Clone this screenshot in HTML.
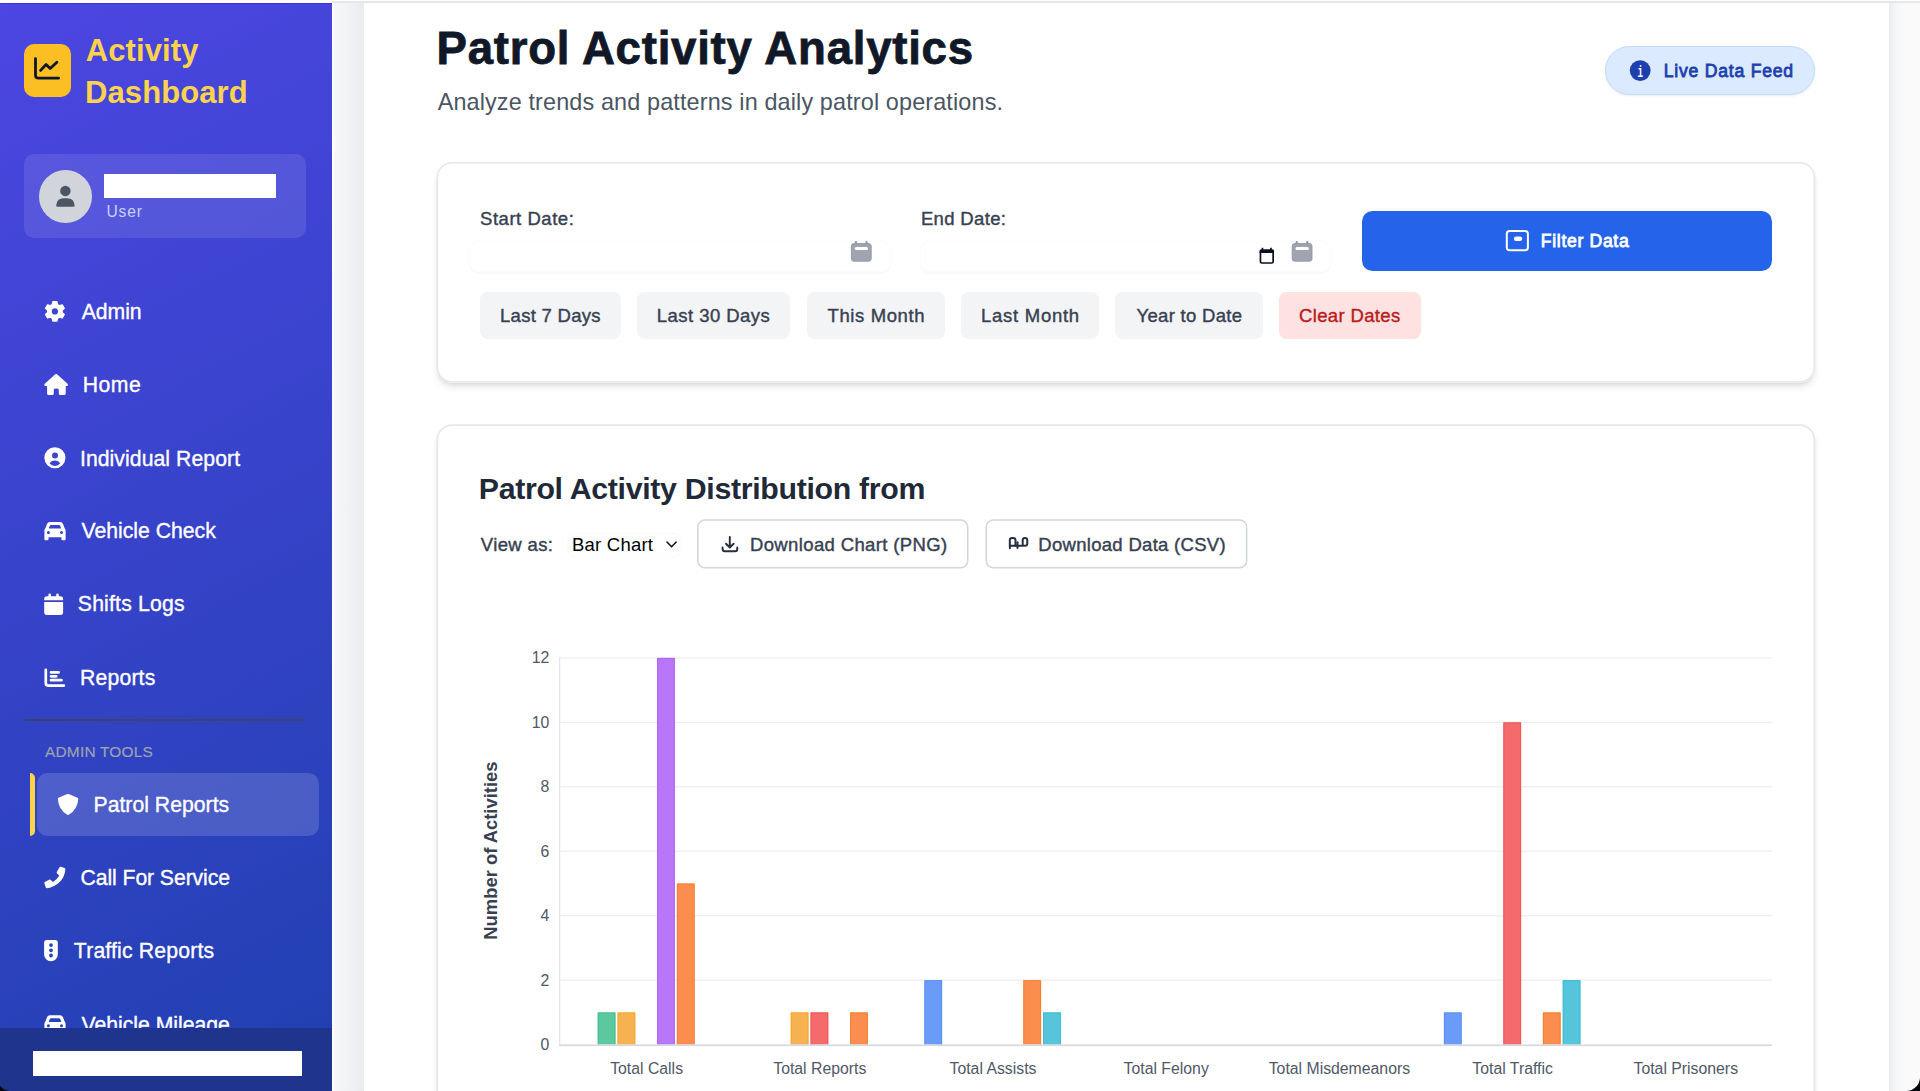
<!DOCTYPE html>
<html lang="en">
<head>
<meta charset="utf-8">
<title>Patrol Activity Analytics</title>
<style>
*{box-sizing:border-box;margin:0;padding:0}
html,body{width:1920px;height:1091px;overflow:hidden;background:#f3f4f6;font-family:"Liberation Sans",Arial,Helvetica,sans-serif}
.abs{position:absolute}
.t{position:absolute;white-space:pre;font-family:"Liberation Sans",Arial,Helvetica,sans-serif}
#topstrip{left:0;top:0;width:1920px;height:3px;background:#e5e7eb}
#topwhite{left:0;top:0;width:1920px;height:1.2px;background:#fff}
#topside{left:0;top:0;width:332px;height:3px;background:#fffdf8}
#sidebar{left:0;top:3px;width:332px;height:1088px;background:linear-gradient(152deg,#4c46e2 0%,#2040b0 100%);overflow:hidden}
#sideline{left:0;top:2.6px;width:332px;height:1.4px;background:#3a35df}
#gutterL{left:332px;top:3px;width:32px;height:1088px;background:linear-gradient(90deg,#ffffff 0,#ffffff 1.5px,#f6f7f8 2.5px,#f1f2f4 18px,#eaebee 31.5px,#eaebee 100%)}
#panel{left:363.75px;top:3px;width:1125.25px;height:1088px;background:#fff}
#panel{width:1525.25px}
#gutterR{left:1888.9px;top:3px;width:31.1px;height:1088px;background:linear-gradient(90deg,#ecedef 0,#f1f2f4 4px,#f6f7f8 8px,#f9f9fa 13px,#fafafa 100%)}
#logo{left:23.6px;top:44.2px;width:47.2px;height:52.8px;border-radius:10px;background:#fbbf24}
#usercard{left:23.6px;top:153.8px;width:282.4px;height:84.1px;border-radius:10px;background:rgba(255,255,255,0.1)}
#avatar{left:39px;top:169.8px;width:52.8px;height:52.8px;border-radius:50%;background:#d1d5db}
#redact1{left:104px;top:174px;width:172px;height:24px;background:#fff}
#divider{left:23.6px;top:718.7px;width:282.4px;height:2px;background:#38446a}
#active{left:36.9px;top:772.9px;width:282.2px;height:63.1px;border-radius:10.5px;background:rgba(255,255,255,0.15)}
#abar{left:29.9px;top:772.7px;width:5.5px;height:63.5px;border-radius:0 5px 5px 0;background:#fcd34d}
#footer{left:0;top:1027.9px;width:332px;height:64px;background:#1f358d}
#redact2{left:32.7px;top:1051px;width:269.6px;height:24.8px;background:#fff}
.corner{width:14px;height:14px;background:#0b0f1a}
#pill{left:1605px;top:46px;width:210.25px;height:49px;border-radius:25px;background:#dbeafe;border:1.3px solid #bfdbfe;box-shadow:0 1px 3px rgba(0,0,0,0.08)}
.card{background:#fff;border-radius:15.4px;box-shadow:0 5px 7.7px -1.3px rgba(0,0,0,0.1),0 2.5px 5px -2.5px rgba(0,0,0,0.1)}
#card1{left:436.6px;top:161.9px;width:1378.6px;height:220.9px}
#card2{left:436.6px;top:424.3px;width:1378.6px;height:720px}
.inp{border:1px solid #fcfcfd;border-radius:10px;box-shadow:0 1.5px 2px rgba(0,0,0,0.028);background:#fff}
#in1{left:469px;top:241px;width:421.5px;height:30.5px}
#in2{left:920.3px;top:241px;width:411px;height:30.5px}
#fbtn{left:1362px;top:210.6px;width:410.2px;height:60.2px;border-radius:10.5px;background:#2563eb}
.qb{top:291.7px;height:46.9px;border-radius:7.7px;background:#f3f4f6}
.dl{top:519.4px;height:49.2px;border-radius:8px;background:#fff}
#sel{left:566.8px;top:532.8px;width:115px;height:24.5px;border-radius:8px;border:1px solid #fafafa;background:#fff}
a.t{text-decoration:none}
button{border:0;background:none;font:inherit;padding:0;margin:0;display:block;overflow:visible}
h1,h2,h3,p,label{margin:0;padding:0}
</style>
</head>
<body>
<div class="abs" id="topstrip"></div>
<div class="abs" id="topwhite"></div>
<div class="abs" id="gutterL"></div>
<div class="abs" id="gutterR"></div>
<main>
<div class="abs" id="panel"></div>
<header>
<h1 class="t" style="left:436.53px;top:22.90px;font-size:45.6px;line-height:52.39px;font-weight:700;color:#111827;letter-spacing:0.749px;-webkit-text-stroke:0.8px #111827;">Patrol Activity Analytics</h1>
<p class="t" style="left:437.67px;top:88.65px;font-size:23.4px;line-height:26.89px;font-weight:400;color:#4b5563;letter-spacing:0.139px;">Analyze trends and patterns in daily patrol operations.</p>
<div class="abs" id="pill"><span class="t" style="left:57.64px;top:14.19px;font-size:17.6px;line-height:20.22px;font-weight:400;color:#1e40af;letter-spacing:0.779px;-webkit-text-stroke:0.8px #1e40af;">Live Data Feed</span></div>
</header>
<section aria-label="Date filters">
<div class="abs card" id="card1"></div>
<svg aria-hidden="true" class="abs" style="left:0;top:0" width="1920" height="1091" viewBox="0 0 1920 1091"><rect x="437.42" y="162.72" width="1376.95" height="219.25" rx="14.6" fill="none" stroke="#e5e7eb" stroke-width="1.65"/></svg>
<label class="t" style="left:480.02px;top:208.16px;font-size:18.5px;line-height:21.26px;font-weight:400;color:#374151;letter-spacing:0.537px;-webkit-text-stroke:0.4px #374151;">Start Date:</label>
<div class="abs inp" id="in1"></div>
<label class="t" style="left:920.93px;top:208.16px;font-size:18.5px;line-height:21.26px;font-weight:400;color:#374151;letter-spacing:0.348px;-webkit-text-stroke:0.4px #374151;">End Date:</label>
<div class="abs inp" id="in2"></div>
<button type="button" class="abs" id="fbtn"><span class="t" style="left:178.81px;top:20.19px;font-size:17.6px;line-height:20.22px;font-weight:400;color:#ffffff;letter-spacing:0.675px;-webkit-text-stroke:0.8px #ffffff;">Filter Data</span></button>
<button type="button" class="abs qb" style="left:479.9px;width:141.1px"><span class="t" style="left:20.08px;top:13.26px;font-size:18.5px;line-height:21.26px;font-weight:400;color:#374151;letter-spacing:0.294px;-webkit-text-stroke:0.4px #374151;">Last 7 Days</span></button>
<button type="button" class="abs qb" style="left:636.9px;width:153.4px"><span class="t" style="left:19.87px;top:13.26px;font-size:18.5px;line-height:21.26px;font-weight:400;color:#374151;letter-spacing:0.463px;-webkit-text-stroke:0.4px #374151;">Last 30 Days</span></button>
<button type="button" class="abs qb" style="left:806.5px;width:138.5px"><span class="t" style="left:21.10px;top:13.26px;font-size:18.5px;line-height:21.26px;font-weight:400;color:#374151;letter-spacing:0.594px;-webkit-text-stroke:0.4px #374151;">This Month</span></button>
<button type="button" class="abs qb" style="left:960.8px;width:138.3px"><span class="t" style="left:20.13px;top:13.26px;font-size:18.5px;line-height:21.26px;font-weight:400;color:#374151;letter-spacing:0.740px;-webkit-text-stroke:0.4px #374151;">Last Month</span></button>
<button type="button" class="abs qb" style="left:1115px;width:147.9px"><span class="t" style="left:21.51px;top:13.26px;font-size:18.5px;line-height:21.26px;font-weight:400;color:#374151;letter-spacing:0.304px;-webkit-text-stroke:0.4px #374151;">Year to Date</span></button>
<button type="button" class="abs qb" style="left:1278.5px;width:142px;background:#fee2e2"><span class="t" style="left:20.52px;top:13.26px;font-size:18.5px;line-height:21.26px;font-weight:400;color:#b91c1c;letter-spacing:0.345px;-webkit-text-stroke:0.4px #b91c1c;">Clear Dates</span></button>
</section>
<section aria-label="Patrol activity chart">
<div class="abs card" id="card2"></div>
<h2 class="t" style="left:478.74px;top:471.80px;font-size:30.3px;line-height:34.81px;font-weight:700;color:#1f2937;letter-spacing:-0.312px;">Patrol Activity Distribution from</h2>
<label class="t" style="left:480.83px;top:533.66px;font-size:18.5px;line-height:21.26px;font-weight:400;color:#374151;letter-spacing:0.352px;-webkit-text-stroke:0.4px #374151;">View as:</label>
<div class="abs" id="sel"><span class="t" style="left:4.29px;top:-0.14px;font-size:18.5px;line-height:21.26px;font-weight:400;color:#000000;letter-spacing:0.206px;">Bar Chart</span></div>
<button type="button" class="abs dl" style="left:697.6px;width:270.9px"><span class="t" style="left:52.40px;top:14.66px;font-size:18.5px;line-height:21.26px;font-weight:400;color:#374151;letter-spacing:0.367px;-webkit-text-stroke:0.4px #374151;">Download Chart (PNG)</span></button>
<button type="button" class="abs dl" style="left:985.5px;width:261.9px"><span class="t" style="left:52.77px;top:14.66px;font-size:18.5px;line-height:21.26px;font-weight:400;color:#374151;letter-spacing:0.301px;-webkit-text-stroke:0.4px #374151;">Download Data (CSV)</span></button>
<svg aria-hidden="true" class="abs" style="left:0;top:0" width="1920" height="1091" viewBox="0 0 1920 1091"><rect x="697.85" y="519.95" width="269.85" height="47.85" rx="7" fill="none" stroke="#d3d6db" stroke-width="1.6"/><rect x="986.3" y="519.95" width="260.3" height="47.85" rx="7" fill="none" stroke="#d3d6db" stroke-width="1.6"/><rect x="437.42" y="425.12" width="1376.95" height="700" rx="14.6" fill="none" stroke="#e5e7eb" stroke-width="1.65"/></svg>
<svg class="abs" style="left:0;top:0" width="1920" height="1091" viewBox="0 0 1920 1091" font-family="Liberation Sans, Arial, Helvetica, sans-serif">
<rect x="559.00" y="979.50" width="1213.00" height="1.3" fill="#eceef1"/>
<rect x="559.00" y="915.05" width="1213.00" height="1.3" fill="#eceef1"/>
<rect x="559.00" y="850.60" width="1213.00" height="1.3" fill="#eceef1"/>
<rect x="559.00" y="786.15" width="1213.00" height="1.3" fill="#eceef1"/>
<rect x="559.00" y="721.70" width="1213.00" height="1.3" fill="#eceef1"/>
<rect x="559.00" y="657.25" width="1213.00" height="1.3" fill="#eceef1"/>
<rect x="558.95" y="657.25" width="1.3" height="388.00" fill="#e3e5ea"/>
<rect x="597.70" y="1012.37" width="17.81" height="32.23" fill="#5bc89d"/>
<path d="M598.20 1044.60 L598.20 1012.87 L615.02 1012.87 L615.02 1044.60" fill="none" stroke="#34b987" stroke-width="1" opacity="0.6"/>
<rect x="617.50" y="1012.37" width="17.81" height="32.23" fill="#f6b251"/>
<path d="M618.00 1044.60 L618.00 1012.87 L634.81 1012.87 L634.81 1044.60" fill="none" stroke="#f59e0b" stroke-width="1" opacity="0.6"/>
<rect x="657.09" y="657.90" width="17.81" height="386.70" fill="#b976f9"/>
<path d="M657.59 1044.60 L657.59 658.40 L674.40 658.40 L674.40 1044.60" fill="none" stroke="#a855f7" stroke-width="1" opacity="0.6"/>
<rect x="676.88" y="883.47" width="17.81" height="161.12" fill="#fb8e4f"/>
<path d="M677.38 1044.60 L677.38 883.97 L694.20 883.97 L694.20 1044.60" fill="none" stroke="#f97316" stroke-width="1" opacity="0.6"/>
<rect x="790.70" y="1012.37" width="17.81" height="32.23" fill="#f6b251"/>
<path d="M791.20 1044.60 L791.20 1012.87 L808.01 1012.87 L808.01 1044.60" fill="none" stroke="#f59e0b" stroke-width="1" opacity="0.6"/>
<rect x="810.49" y="1012.37" width="17.81" height="32.23" fill="#f56b6b"/>
<path d="M810.99 1044.60 L810.99 1012.87 L827.81 1012.87 L827.81 1044.60" fill="none" stroke="#ef4444" stroke-width="1" opacity="0.6"/>
<rect x="850.08" y="1012.37" width="17.81" height="32.23" fill="#fb8e4f"/>
<path d="M850.58 1044.60 L850.58 1012.87 L867.40 1012.87 L867.40 1044.60" fill="none" stroke="#f97316" stroke-width="1" opacity="0.6"/>
<rect x="924.31" y="980.15" width="17.81" height="64.45" fill="#6a9bf8"/>
<path d="M924.81 1044.60 L924.81 980.65 L941.62 980.65 L941.62 1044.60" fill="none" stroke="#4f86f7" stroke-width="1" opacity="0.6"/>
<rect x="1023.28" y="980.15" width="17.81" height="64.45" fill="#fb8e4f"/>
<path d="M1023.78 1044.60 L1023.78 980.65 L1040.60 980.65 L1040.60 1044.60" fill="none" stroke="#f97316" stroke-width="1" opacity="0.6"/>
<rect x="1043.08" y="1012.37" width="17.81" height="32.23" fill="#56c4da"/>
<path d="M1043.58 1044.60 L1043.58 1012.87 L1060.39 1012.87 L1060.39 1044.60" fill="none" stroke="#22b8d1" stroke-width="1" opacity="0.6"/>
<rect x="1443.91" y="1012.37" width="17.81" height="32.23" fill="#6a9bf8"/>
<path d="M1444.41 1044.60 L1444.41 1012.87 L1461.22 1012.87 L1461.22 1044.60" fill="none" stroke="#4f86f7" stroke-width="1" opacity="0.6"/>
<rect x="1503.29" y="722.35" width="17.81" height="322.25" fill="#f56b6b"/>
<path d="M1503.79 1044.60 L1503.79 722.85 L1520.61 722.85 L1520.61 1044.60" fill="none" stroke="#ef4444" stroke-width="1" opacity="0.6"/>
<rect x="1542.88" y="1012.37" width="17.81" height="32.23" fill="#fb8e4f"/>
<path d="M1543.38 1044.60 L1543.38 1012.87 L1560.20 1012.87 L1560.20 1044.60" fill="none" stroke="#f97316" stroke-width="1" opacity="0.6"/>
<rect x="1562.68" y="980.15" width="17.81" height="64.45" fill="#56c4da"/>
<path d="M1563.18 1044.60 L1563.18 980.65 L1579.99 980.65 L1579.99 1044.60" fill="none" stroke="#22b8d1" stroke-width="1" opacity="0.6"/>
<rect x="558.95" y="1044.40" width="1213.05" height="1.7" fill="#d6d9df"/>
<text x="549.4" y="1050.15" text-anchor="end" font-size="15.8" fill="#4f5866">0</text>
<text x="549.4" y="985.70" text-anchor="end" font-size="15.8" fill="#4f5866">2</text>
<text x="549.4" y="921.25" text-anchor="end" font-size="15.8" fill="#4f5866">4</text>
<text x="549.4" y="856.80" text-anchor="end" font-size="15.8" fill="#4f5866">6</text>
<text x="549.4" y="792.35" text-anchor="end" font-size="15.8" fill="#4f5866">8</text>
<text x="549.4" y="727.90" text-anchor="end" font-size="15.8" fill="#4f5866">10</text>
<text x="549.4" y="663.45" text-anchor="end" font-size="15.8" fill="#4f5866">12</text>
<text x="646.60" y="1074" text-anchor="middle" font-size="15.8" fill="#4f5866">Total Calls</text>
<text x="819.80" y="1074" text-anchor="middle" font-size="15.8" fill="#4f5866">Total Reports</text>
<text x="993.00" y="1074" text-anchor="middle" font-size="15.8" fill="#4f5866">Total Assists</text>
<text x="1166.20" y="1074" text-anchor="middle" font-size="15.8" fill="#4f5866">Total Felony</text>
<text x="1339.40" y="1074" text-anchor="middle" font-size="15.8" fill="#4f5866">Total Misdemeanors</text>
<text x="1512.60" y="1074" text-anchor="middle" font-size="15.8" fill="#4f5866">Total Traffic</text>
<text x="1685.80" y="1074" text-anchor="middle" font-size="15.8" fill="#4f5866">Total Prisoners</text>
<text transform="translate(497.3 850.6) rotate(-90)" text-anchor="middle" font-size="18.4" font-weight="700" fill="#374151">Number of Activities</text>
</svg>
</section>
<svg aria-hidden="true" class="abs" style="left:0;top:0" width="1920" height="1091" viewBox="0 0 1920 1091">
<circle cx="1640.2" cy="70.6" r="10.4" fill="#1e40af"/><text transform="translate(1640.2 76.9) scale(0.6 1)" text-anchor="middle" font-family="Liberation Mono, DejaVu Sans Mono, monospace" font-weight="700" font-size="15.6" fill="#fff">i</text>
<g><rect x="854.80" y="240.9" width="2.2" height="4" rx="1" fill="#8f95a3"/><rect x="865.40" y="240.9" width="2.2" height="4" rx="1" fill="#8f95a3"/><rect x="851.40" y="243.6" width="19.8" height="17.6" rx="2.4" fill="#9fa4b0" stroke="#9096a4" stroke-width="0.9"/><rect x="854.70" y="247" width="13.3" height="3" rx="1.5" fill="#fff"/></g>
<g><rect x="1295.60" y="240.9" width="2.2" height="4" rx="1" fill="#8f95a3"/><rect x="1306.20" y="240.9" width="2.2" height="4" rx="1" fill="#8f95a3"/><rect x="1292.20" y="243.6" width="19.8" height="17.6" rx="2.4" fill="#9fa4b0" stroke="#9096a4" stroke-width="0.9"/><rect x="1295.50" y="247" width="13.3" height="3" rx="1.5" fill="#fff"/></g>
<g fill="none" stroke="#0b1020" stroke-width="1.7" stroke-linejoin="round"><rect x="1260.45" y="250.4" width="12.7" height="12.6" rx="1.4"/></g><path fill="#0b1020" d="M1259.6 252.9 L1259.6 251 Q1259.6 249.6 1261 249.6 L1261.6 249.6 L1261.6 247.8 L1263.3 247.8 L1263.3 249.6 L1270.1 249.6 L1270.1 247.8 L1271.8 247.8 L1271.8 249.6 L1272.6 249.6 Q1274 249.6 1274 251 L1274 252.9Z"/>
<rect x="1506.8" y="231" width="21.1" height="19.3" rx="2.8" fill="none" stroke="#fff" stroke-width="2"/><rect x="1513.9" y="236.5" width="8.4" height="4.4" rx="2.2" fill="#fff"/>
<path d="M667 542 L671.6 546.8 L676.2 542" fill="none" stroke="#111827" stroke-width="1.6" stroke-linecap="round" stroke-linejoin="round"/>
<g fill="none" stroke="#252f3f" stroke-width="1.95" stroke-linecap="round" stroke-linejoin="round"><path d="M722.6 547.5 L722.6 549 Q722.6 551.3 724.9 551.3 L735 551.3 Q737.3 551.3 737.3 549 L737.3 547.5"/><path d="M729.8 537 L729.8 547.3 M726 543.7 L729.8 547.5 L733.6 543.7"/></g>
<g fill="none" stroke="#252f3f" stroke-width="2" stroke-linecap="round" stroke-linejoin="round"><path d="M1009.9 548.3 L1009.8 540.3 Q1009.8 538 1012.1 538 L1013.2 538 Q1015.5 538 1015.5 540.3 L1015.5 545.8"/><path d="M1009.8 545.8 L1025 545.8 Q1027.3 545.8 1027.3 543.5 L1027.3 540.3 Q1027.3 538 1025 538 Q1022.7 538 1022.7 540.3 L1022.7 545.8"/><path d="M1017.5 542.3 L1017.5 548"/></g>
</svg>
</main>
<aside>
<div class="abs" id="topside"></div>
<div class="abs" id="sidebar"></div>
<div class="abs" id="sideline"></div>
<div class="abs" id="logo"></div>
<span class="t" style="left:85.71px;top:32.75px;font-size:31px;line-height:35.62px;font-weight:700;color:#fcd34d;letter-spacing:0.101px;">Activity</span>
<span class="t" style="left:84.98px;top:74.75px;font-size:31px;line-height:35.62px;font-weight:700;color:#fcd34d;letter-spacing:0.098px;">Dashboard</span>
<div class="abs" id="usercard"></div>
<div class="abs" id="avatar"></div>
<div class="abs" id="redact1"></div>
<p class="t" style="left:106.44px;top:203.23px;font-size:15.6px;line-height:17.92px;font-weight:400;color:#c7d2fe;letter-spacing:0.864px;">User</p>
<nav>
<a class="t" style="left:81.67px;top:299.97px;font-size:21.2px;line-height:24.36px;font-weight:400;color:#ffffff;letter-spacing:-0.018px;-webkit-text-stroke:0.35px #ffffff;">Admin</a>
<a class="t" style="left:82.84px;top:373.07px;font-size:21.2px;line-height:24.36px;font-weight:400;color:#ffffff;letter-spacing:0.439px;-webkit-text-stroke:0.35px #ffffff;">Home</a>
<a class="t" style="left:79.95px;top:446.57px;font-size:21.2px;line-height:24.36px;font-weight:400;color:#ffffff;letter-spacing:0.068px;-webkit-text-stroke:0.35px #ffffff;">Individual Report</a>
<a class="t" style="left:81.50px;top:519.37px;font-size:21.2px;line-height:24.36px;font-weight:400;color:#ffffff;letter-spacing:0.000px;-webkit-text-stroke:0.35px #ffffff;">Vehicle Check</a>
<a class="t" style="left:77.82px;top:592.47px;font-size:21.2px;line-height:24.36px;font-weight:400;color:#ffffff;letter-spacing:0.195px;-webkit-text-stroke:0.35px #ffffff;">Shifts Logs</a>
<a class="t" style="left:80.01px;top:666.07px;font-size:21.2px;line-height:24.36px;font-weight:400;color:#ffffff;letter-spacing:0.182px;-webkit-text-stroke:0.35px #ffffff;">Reports</a>
<div class="abs" id="divider"></div>
<h3 class="t" style="left:45.02px;top:743.42px;font-size:15.4px;line-height:17.69px;font-weight:400;color:#9ca3af;letter-spacing:0.233px;-webkit-text-stroke:0.2px #9ca3af;">ADMIN TOOLS</h3>
<div class="abs" id="active"></div>
<div class="abs" id="abar"></div>
<a class="t" style="left:93.52px;top:793.07px;font-size:21.2px;line-height:24.36px;font-weight:400;color:#ffffff;letter-spacing:0.014px;-webkit-text-stroke:0.35px #ffffff;">Patrol Reports</a>
<a class="t" style="left:80.53px;top:866.07px;font-size:21.2px;line-height:24.36px;font-weight:400;color:#ffffff;letter-spacing:-0.078px;-webkit-text-stroke:0.35px #ffffff;">Call For Service</a>
<a class="t" style="left:73.84px;top:939.37px;font-size:21.2px;line-height:24.36px;font-weight:400;color:#ffffff;letter-spacing:0.176px;-webkit-text-stroke:0.35px #ffffff;">Traffic Reports</a>
<a class="t" style="left:81.56px;top:1012.57px;font-size:21.2px;line-height:24.36px;font-weight:400;color:#ffffff;letter-spacing:-0.013px;-webkit-text-stroke:0.35px #ffffff;">Vehicle Mileage</a>
</nav>
<svg aria-hidden="true" class="abs" style="left:0;top:0" width="1920" height="1091" viewBox="0 0 1920 1091">
<g fill="none" stroke="#0f172a" stroke-width="2.8" stroke-linecap="round" stroke-linejoin="round"><path d="M35.5 58.6 L35.5 75.2 Q35.5 78.2 38.5 78.2 L58.6 78.2"/><path d="M40.6 70.4 L46.1 64.5 L50.2 68.5 L56.9 62.3"/></g>
<path d="M57.63 304.63 L56.96 301.72 L52.84 301.72 L52.17 304.63 L50.41 305.65 L47.54 304.78 L45.48 308.34 L47.67 310.38 L47.67 312.42 L45.48 314.46 L47.54 318.02 L50.41 317.15 L52.17 318.17 L52.84 321.08 L56.96 321.08 L57.63 318.17 L59.39 317.15 L62.26 318.02 L64.32 314.46 L62.13 312.42 L62.13 310.38 L64.32 308.34 L62.26 304.78 L59.39 305.65Z M51.20 311.40 a3.7 3.7 0 1 0 7.4 0 a3.7 3.7 0 1 0 -7.4 0Z" fill="#ffffff" fill-rule="evenodd" stroke="#ffffff" stroke-width="1.2" stroke-linejoin="round"/><circle cx="54.9" cy="311.4" r="3.7" fill="none"/>
<path fill="#ffffff" d="M55.3 374.3 Q56.15 373.6 57 374.3 L67.8 384 Q68.6 385.9 66.9 386.1 L65.7 386.1 L65.7 393.4 Q65.7 395 64.1 395 L60.4 395 Q58.8 395 58.8 393.4 L58.8 390 Q58.8 388.4 57.2 388.4 L55.4 388.4 Q53.8 388.4 53.8 390 L53.8 393.4 Q53.8 395 52.2 395 L48.7 395 Q47.1 395 47.1 393.4 L47.1 386.1 L45.4 386.1 Q43.7 385.9 44.5 384 Z"/>
<path fill="#ffffff" fill-rule="evenodd" d="M44.35 457.8 a10.55 10.55 0 1 0 21.1 0 a10.55 10.55 0 1 0 -21.1 0Z M52 455.5 a3 3 0 1 0 6 0 a3 3 0 1 0 -6 0Z M49.5 463.3 Q51.3 460.4 54.9 460.4 Q58.5 460.4 60.3 463.3 Q58.2 465.9 54.9 465.9 Q51.6 465.9 49.5 463.3Z"/>
<path fill="#ffffff" fill-rule="evenodd" d="M50 522.00 L60 522.00 Q62.3 522.00 63.1 524.20 L64.6 528.30 Q65.6 529.00 65.6 530.60 L65.6 539.20 Q65.6 540.30 64.5 540.30 L62.5 540.30 Q61.4 540.30 61.4 539.20 L61.4 537.30 L48.5 537.30 L48.5 539.20 Q48.5 540.30 47.4 540.30 L45.5 540.30 Q44.4 540.30 44.4 539.20 L44.4 530.60 Q44.4 529.00 45.4 528.30 L46.9 524.20 Q47.7 522.00 50 522.00Z M51 524.90 L59 524.90 Q59.9 524.90 60.2 525.70 L61.2 528.60 L48.8 528.60 L49.8 525.70 Q50.1 524.90 51 524.90Z M46.9 532.40 a1.5 1.5 0 1 0 3 0 a1.5 1.5 0 1 0 -3 0Z M60 532.40 a1.5 1.5 0 1 0 3 0 a1.5 1.5 0 1 0 -3 0Z"/>
<path fill="#ffffff" fill-rule="evenodd" d="M50 1015.30 L60 1015.30 Q62.3 1015.30 63.1 1017.50 L64.6 1021.60 Q65.6 1022.30 65.6 1023.90 L65.6 1032.50 Q65.6 1033.60 64.5 1033.60 L62.5 1033.60 Q61.4 1033.60 61.4 1032.50 L61.4 1030.60 L48.5 1030.60 L48.5 1032.50 Q48.5 1033.60 47.4 1033.60 L45.5 1033.60 Q44.4 1033.60 44.4 1032.50 L44.4 1023.90 Q44.4 1022.30 45.4 1021.60 L46.9 1017.50 Q47.7 1015.30 50 1015.30Z M51 1018.20 L59 1018.20 Q59.9 1018.20 60.2 1019.00 L61.2 1021.90 L48.8 1021.90 L49.8 1019.00 Q50.1 1018.20 51 1018.20Z M46.9 1025.70 a1.5 1.5 0 1 0 3 0 a1.5 1.5 0 1 0 -3 0Z M60 1025.70 a1.5 1.5 0 1 0 3 0 a1.5 1.5 0 1 0 -3 0Z"/>
<path fill="#ffffff" d="M44.2 599 Q44.2 596.3 46.9 596.3 L48.4 596.3 L48.4 594.9 Q48.4 593.6 49.7 593.6 Q51 593.6 51 594.9 L51 596.3 L56.2 596.3 L56.2 594.9 Q56.2 593.6 57.5 593.6 Q58.8 593.6 58.8 594.9 L58.8 596.3 L60.4 596.3 Q63.1 596.3 63.1 599 L63.1 600.3 L44.2 600.3Z M44.2 602.1 L63.1 602.1 L63.1 612.3 Q63.1 614.9 60.5 614.9 L46.8 614.9 Q44.2 614.9 44.2 612.3Z"/>
<g fill="none" stroke="#ffffff" stroke-width="2.7" stroke-linecap="round" stroke-linejoin="round"><path d="M45.8 669.8 L45.8 682.9 Q45.8 685.6 48.5 685.6 L63.9 685.6"/><path d="M51 672.4 L58.6 672.4 M51 676.3 L56.2 676.3 M51 680.2 L61.5 680.2"/></g>
<path fill="#ffffff" d="M67.4 794 Q68 793.75 68.6 794 L77.5 797.7 Q78.3 798.1 78.25 798.9 Q77.5 809.6 68.7 814.8 Q68 815.2 67.3 814.8 Q58.5 809.6 57.85 798.9 Q57.8 798.1 58.5 797.7Z"/>
<path fill="#ffffff" d="M59.5 867.3 Q59.9 866.5 60.8 866.8 L64.6 868.1 Q65.4 868.4 65.4 869.3 Q64.8 877.6 58.6 883.1 Q53 887.7 46.9 888.3 Q46 888.3 45.8 887.5 L44.3 883.1 Q44.1 882.3 44.8 881.9 L49.5 879.6 Q50.3 879.3 50.8 879.9 L53 882.1 Q57 879.6 59.3 875.6 L57 873.4 Q56.5 872.8 56.8 872.1Z"/>
<path fill="#ffffff" fill-rule="evenodd" d="M44.1 942.8 Q44.1 940.1 46.8 940.1 L55.1 940.1 Q57.8 940.1 57.8 942.8 L57.8 954.5 A6.85 6.85 0 0 1 44.1 954.5Z M49.1 945.1 a1.9 1.9 0 1 0 3.8 0 a1.9 1.9 0 1 0 -3.8 0Z M49.1 950.3 a1.9 1.9 0 1 0 3.8 0 a1.9 1.9 0 1 0 -3.8 0Z M49.1 955.5 a1.9 1.9 0 1 0 3.8 0 a1.9 1.9 0 1 0 -3.8 0Z"/>
<circle cx="65.4" cy="190.9" r="5.25" fill="#4b5563"/><path fill="#4b5563" d="M56.2 205.4 Q56.7 198.2 63.6 198.2 L67.2 198.2 Q74.1 198.2 74.6 205.4 Q74.6 206.8 73.2 206.8 L57.6 206.8 Q56.2 206.8 56.2 205.4Z"/>
</svg>
<footer><div class="abs" id="footer"></div>
<div class="abs" id="redact2"></div></footer>
</aside>
<svg aria-hidden="true" class="abs" style="left:0;top:0" width="1920" height="1091" viewBox="0 0 1920 1091"><path d="M0 1085.6 L1 1086.7 L2.5 1088.2 L4.8 1089.8 L9 1091 L0 1091Z" fill="#05070f"/><path d="M1920 1076.5 A14 14 0 0 1 1906 1091 L1920 1091Z" fill="#05070f"/></svg>
</body>
</html>
